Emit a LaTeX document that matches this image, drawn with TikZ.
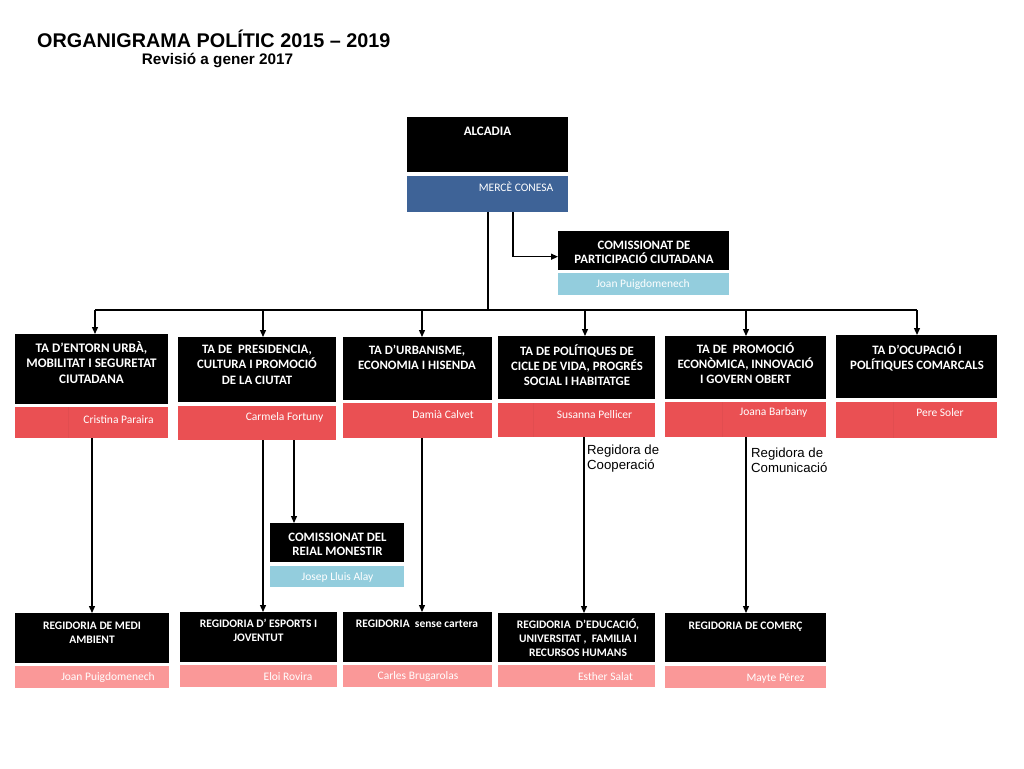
\documentclass[tikz,border=0pt]{standalone}
\usepackage{fontspec}
\setmainfont{Carlito}
\newfontfamily\arialf{Liberation Sans}
\usetikzlibrary{arrows.meta}
\definecolor{bluebox}{RGB}{62,99,151}
\definecolor{redbox}{RGB}{234,80,83}
\definecolor{pinkbox}{RGB}{250,152,152}
\definecolor{lbluebox}{RGB}{147,205,221}
\newcommand\firstln{\rule{0pt}{13pt}}
\begin{document}
\begin{tikzpicture}[x=1pt,y=-1pt,
  box/.style={draw=none,inner sep=0pt,anchor=north west},
  blk/.style={box,fill=black},
  head/.style={text=white,font=\bfseries\fontsize{12.8}{15.5}\selectfont,align=center,anchor=north,inner sep=0pt},
  headsm/.style={text=white,font=\bfseries\fontsize{11.5}{13.7}\selectfont,align=center,anchor=north,inner sep=0pt},
  nm/.style={text=white,font=\fontsize{11.5}{13}\selectfont,inner sep=0pt,anchor=base},
  divl/.style={draw=redbox!96!black,line width=0.4pt},
  lnk/.style={line width=1.3pt,draw=black},
  arr/.style={lnk,-{Triangle[length=7pt,width=6pt]}},
  note/.style={font=\arialf\fontsize{13.2}{15}\selectfont,align=left,anchor=north west,inner sep=0pt}]
\useasboundingbox (0,0) rectangle (1024,768);
\fill[white] (0,0) rectangle (1024,768);
% title
\node[font=\arialf\bfseries\fontsize{19.8}{22}\selectfont,anchor=west,inner sep=0pt] (title) at (37,38.5) {ORGANIGRAMA POLÍTIC 2015 – 2019};
\node[font=\arialf\bfseries\fontsize{15.3}{17}\selectfont,inner sep=0pt] (sub) at (217.5,60.5) {Revisió a gener 2017};
% Alcadia
\node[blk,minimum width=161pt,minimum height=55pt] (alc) at (407,117) {};
\node[box,fill=bluebox,minimum width=161pt,minimum height=36pt] (alcn) at (407,176) {};
\node[text=white,font=\bfseries\fontsize{13}{15}\selectfont,inner sep=0pt,anchor=base] (alct) at (487.5,135.2) {ALCADIA};
\node[nm] (alcnt) at (516,191.7) {MERCÈ CONESA};
% Comissionat participacio
\node[blk,minimum width=171pt,minimum height=39pt] (cp) at (558,231) {};
\node[box,fill=lbluebox,minimum width=171pt,minimum height=22pt] (cpn) at (558,273) {};
\node[head,font=\bfseries\fontsize{12.8}{14}\selectfont] (cpt) at (644,236.6) {\firstln COMISSIONAT DE\\PARTICIPACIÓ CIUTADANA};
\node[nm] (cpnt) at (643,287) {Joan Puigdomenech};
% TA boxes
\node[blk,minimum width=153pt,minimum height=70pt] (t1) at (15,334) {};
\node[box,fill=redbox,minimum width=153pt,minimum height=31pt] (n1) at (15,407) {};
\draw[divl] (68,407) -- (68,438);
\node[head,font=\bfseries\fontsize{13.1}{15.7}\selectfont] (t1t) at (91.5,338.8) {\firstln TA D’ENTORN URBÀ,\\MOBILITAT I SEGURETAT\\CIUTADANA};
\node[nm] (n1t) at (118.5,423) {Cristina Paraira};

\node[blk,minimum width=158pt,minimum height=65pt] (t2) at (178,337) {};
\node[box,fill=redbox,minimum width=158pt,minimum height=34pt] (n2) at (178,406) {};
\node[head] (t2t) at (257,340.1) {\firstln TA DE\ \ PRESIDENCIA,\\CULTURA I PROMOCIÓ\\DE LA CIUTAT};
\node[nm] (n2t) at (284.5,420.5) {Carmela Fortuny};

\node[blk,minimum width=149pt,minimum height=63pt] (t3) at (343,337) {};
\node[box,fill=redbox,minimum width=149pt,minimum height=35pt] (n3) at (343,403) {};
\node[head] (t3t) at (417,341.1) {\firstln TA D’URBANISME,\\ECONOMIA I HISENDA};
\node[nm] (n3t) at (443,418) {Damià Calvet};

\node[blk,minimum width=157pt,minimum height=63pt] (t4) at (498,336) {};
\node[box,fill=redbox,minimum width=157pt,minimum height=34pt] (n4) at (498,403) {};
\draw[divl] (533,403) -- (533,437);
\node[head,font=\bfseries\fontsize{12.8}{15}\selectfont] (t4t) at (577,342.1) {\firstln TA DE POLÍTIQUES DE\\CICLE DE VIDA, PROGRÉS\\SOCIAL I HABITATGE};
\node[nm] (n4t) at (594.5,418) {Susanna Pellicer};

\node[blk,minimum width=161pt,minimum height=63pt] (t5) at (665,336) {};
\node[box,fill=redbox,minimum width=161pt,minimum height=35pt] (n5) at (665,402) {};
\draw[divl] (722,402) -- (722,437);
\node[head,font=\bfseries\fontsize{12.8}{15}\selectfont] (t5t) at (745.5,340.6) {\firstln TA DE\ \ PROMOCIÓ\\ECONÒMICA, INNOVACIÓ\\I GOVERN OBERT};
\node[nm] (n5t) at (773.5,415) {Joana Barbany};

\node[blk,minimum width=161pt,minimum height=63pt] (t6) at (836,335) {};
\node[box,fill=redbox,minimum width=161pt,minimum height=36pt] (n6) at (836,402) {};
\draw[divl] (893,402) -- (893,438);
\node[head,font=\bfseries\fontsize{12.8}{15}\selectfont] (t6t) at (917,341.1) {\firstln TA D’OCUPACIÓ I\\POLÍTIQUES COMARCALS};
\node[nm] (n6t) at (940,416) {Pere Soler};
% Comissionat reial monestir
\node[blk,minimum width=134pt,minimum height=39pt] (cr) at (270,523) {};
\node[box,fill=lbluebox,minimum width=134pt,minimum height=21pt] (crn) at (270,566) {};
\node[head,font=\bfseries\fontsize{12.8}{14}\selectfont] (crt) at (337.5,528) {\firstln COMISSIONAT DEL\\REIAL MONESTIR};
\node[nm] (crnt) at (337.5,580.5) {Josep Lluis Alay};
% Regidories
\node[blk,minimum width=154pt,minimum height=50pt] (r1) at (15,613) {};
\node[box,fill=pinkbox,minimum width=154pt,minimum height=22pt] (m1) at (15,666) {};
\node[headsm] (r1t) at (92,616.2) {\firstln REGIDORIA DE MEDI\\AMBIENT};
\node[nm] (m1t) at (108,680) {Joan Puigdomenech};

\node[blk,minimum width=157pt,minimum height=50pt] (r2) at (180,612) {};
\node[box,fill=pinkbox,minimum width=157pt,minimum height=22pt] (m2) at (180,665) {};
\node[headsm] (r2t) at (258.5,614.7) {\firstln REGIDORIA D’ ESPORTS I\\JOVENTUT};
\node[nm] (m2t) at (288,680) {Eloi Rovira};

\node[blk,minimum width=149pt,minimum height=50pt] (r3) at (343,612) {};
\node[box,fill=pinkbox,minimum width=149pt,minimum height=22pt] (m3) at (343,665) {};
\node[headsm] (r3t) at (417,614.7) {\firstln REGIDORIA\ \ sense cartera};
\node[nm] (m3t) at (418,679) {Carles Brugarolas};

\node[blk,minimum width=157pt,minimum height=49pt] (r4) at (498,613) {};
\node[box,fill=pinkbox,minimum width=157pt,minimum height=22pt] (m4) at (498,665) {};
\node[headsm] (r4t) at (578,615.7) {\firstln REGIDORIA\ \ D’EDUCACIÓ,\\UNIVERSITAT ,\ \ FAMILIA I\\RECURSOS HUMANS};
\node[nm] (m4t) at (605.5,680) {Esther Salat};

\node[blk,minimum width=161pt,minimum height=49pt] (r5) at (665,613) {};
\node[box,fill=pinkbox,minimum width=161pt,minimum height=22pt] (m5) at (665,666) {};
\node[headsm] (r5t) at (745.5,616.7) {\firstln REGIDORIA DE COMERÇ};
\node[nm] (m5t) at (775.5,681) {Mayte Pérez};
% notes
\node[note] (nc) at (587,441.7) {\firstln Regidora de\\Cooperació};
\node[note] (nm2) at (751,444.7) {\firstln Regidora de\\Comunicació};
% connectors
\coordinate (bus) at (488,310);
\coordinate (xp) at (513,0);
\draw[lnk] (alcn.south -| bus) -- (bus);
\draw[arr] (xp |- alcn.south) |- ([yshift=-6pt]cp.west);
\coordinate (c1) at (95,310);
\coordinate (c2) at (263,310);
\coordinate (c3) at (422,310);
\coordinate (c4) at (585,310);
\coordinate (c5) at (746,310);
\coordinate (c6) at (917,310);
\draw[lnk] (c1) -- (c6);
\draw[arr] (c1) -- (c1 |- t1.north);
\draw[arr] (c2) -- (c2 |- t2.north);
\draw[arr] (c3) -- (c3 |- t3.north);
\draw[arr] (c4) -- (c4 |- t4.north);
\draw[arr] (c5) -- (c5 |- t5.north);
\draw[arr] (c6) -- (c6 |- t6.north);
\coordinate (x1) at (92,0);
\coordinate (x2) at (263,0);
\coordinate (x2b) at (294,0);
\coordinate (x3) at (422,0);
\coordinate (x4) at (584,0);
\coordinate (x5) at (746,0);
\draw[arr] (x1 |- n1.south) -- (x1 |- r1.north);
\draw[arr] (x2 |- n2.south) -- (x2 |- r2.north);
\draw[arr] (x2b |- n2.south) -- (x2b |- cr.north);
\draw[arr] (x3 |- n3.south) -- (x3 |- r3.north);
\draw[arr] (x4 |- n4.south) -- (x4 |- r4.north);
\draw[arr] (x5 |- n5.south) -- (x5 |- r5.north);
\end{tikzpicture}
\end{document}
